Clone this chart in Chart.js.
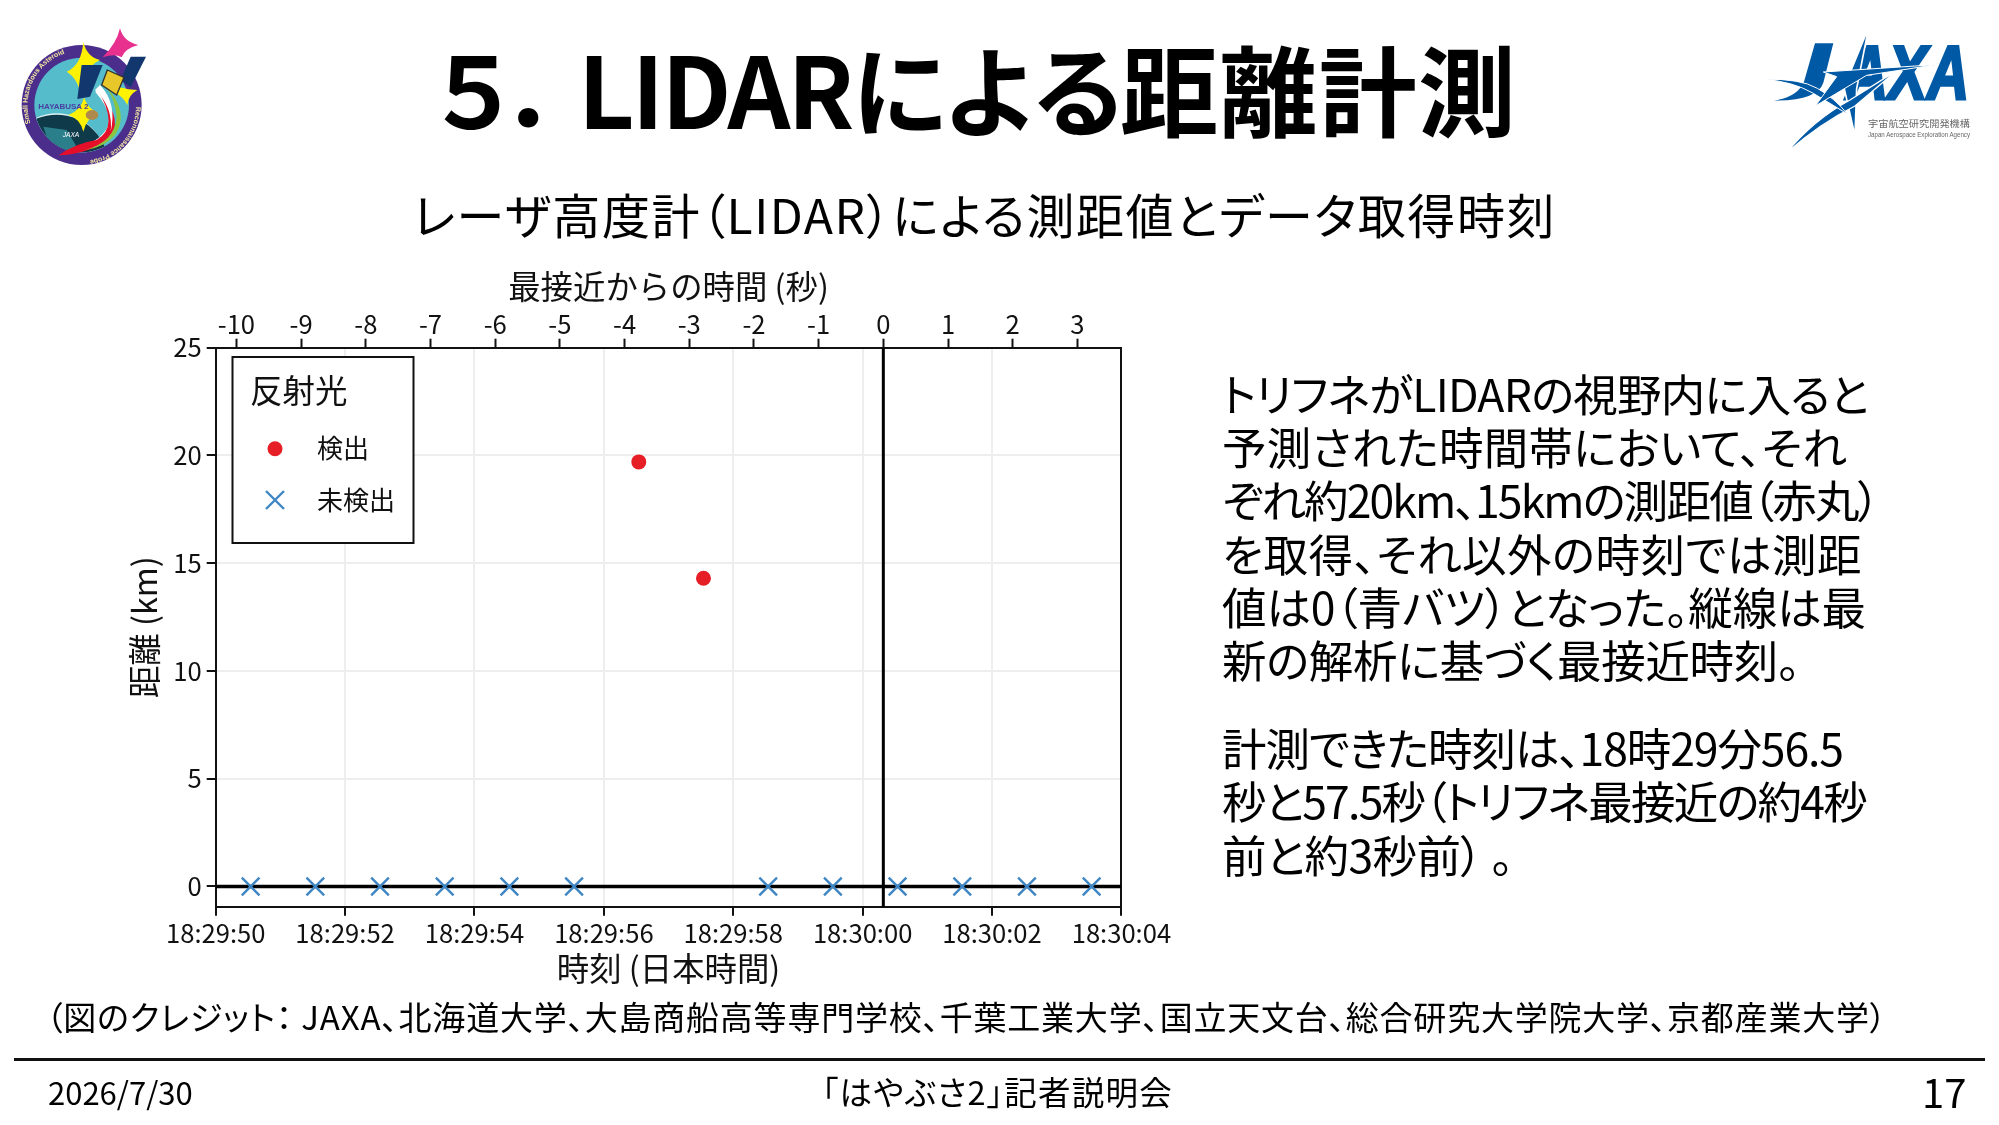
<!DOCTYPE html>
<html lang="ja">
<head>
<meta charset="utf-8">
<title>5. LIDARによる距離計測</title>
<script src="https://cdn.jsdelivr.net/npm/chart.js@4"></script>
<style>
html,body{margin:0;padding:0;background:#fff;width:1999px;height:1125px;overflow:hidden;font-family:"Noto Sans CJK JP","Noto Sans",sans-serif;color:#000}
#c{position:absolute;left:0;top:0}
.t{position:absolute;white-space:nowrap}
.fit{display:inline-block;white-space:nowrap}
#title{left:424px;top:18px;font-size:98px;font-weight:700;line-height:136px}
#title span:nth-child(1){letter-spacing:-21px}
#title span:nth-child(2){letter-spacing:-2.8px}
#title span:nth-child(3){letter-spacing:-7.4px}
#title span:nth-child(4){letter-spacing:1.2px}
#sub{left:413px;top:180px;font-size:48px;line-height:66px;font-feature-settings:"palt"}
#body{left:1222px;top:366px;font-size:44.5px;line-height:53.2px;font-feature-settings:"palt"}
#body p{margin:0 0 35px 0}
#body .fit{display:block;width:max-content}
#credit{left:46px;top:994px;font-size:33px;line-height:44px;font-feature-settings:"palt"}
#rule{position:absolute;left:14px;top:1058px;width:1971px;height:3px;background:#111}
#date{left:48px;top:1072px;font-size:31px;line-height:40px}
#mid{left:822px;top:1068px;font-size:32.5px;line-height:46px;font-feature-settings:"palt"}
#page{left:1922px;top:1064px;font-size:40px;line-height:54px}
svg{position:absolute;left:0;top:0}
</style>
</head>
<body>
<canvas id="c" width="1999" height="1125" style="width:1999px;height:1125px"></canvas>

<svg width="1999" height="1125" viewBox="0 0 1999 1125">
  <defs>
    <clipPath id="inner"><circle cx="245" cy="315" r="142"/></clipPath>
    <path id="arcTop" d="M 92 370 A 163 163 0 0 1 285 157"/>
    <path id="arcBotRev" d="M 408 320 A 163 163 0 0 1 250 482"/>
  </defs>
  <g transform="scale(0.3333)">
    <circle cx="245" cy="315" r="180" fill="#4b2e8c"/>
    <circle cx="245" cy="315" r="142" fill="#55bccb"/>
    <g clip-path="url(#inner)">
      <circle cx="170" cy="490" r="150" fill="#dff3f5"/>
      <circle cx="170" cy="500" r="156" fill="#0f3a4a"/>
      <path d="M130 380 L200 390 L230 440 L160 470Z" fill="#2b7f8a"/>
    </g>
    <path d="M286 276 Q360 360 300 410 Q250 450 175 455 Q290 450 320 395 Q350 350 290 270Z" fill="#fff"/>
    <path d="M292 268 Q385 370 315 425 Q260 462 176 466 Q225 430 290 420 Q360 380 292 268Z" fill="#e60f2a"/>
    <path d="M320 262 Q390 340 345 405 Q310 445 255 450 Q345 425 350 350 Q345 300 320 262Z" fill="#8cc63f"/>
    <path d="M300 255 Q352 310 332 395 Q340 320 285 270Z" fill="#fff"/>
    <path d="M360 85 Q370 125 415 135 Q375 145 365 172 Q345 160 308 172 Q350 130 360 85Z" fill="#e8308f"/>
    <path d="M250 125 Q260 170 300 180 Q270 195 262 220 Q250 270 245 295 Q235 235 200 215 Q245 195 250 125Z" fill="#fff200"/>
    <path d="M252 292 Q262 325 295 340 Q262 350 250 395 Q240 355 205 345 Q245 330 252 292Z" fill="#fff200"/>
    <path d="M360 262 Q385 270 412 270 Q385 285 382 315 Q370 290 345 278Z" fill="#fff200"/>
    <path d="M245 195 L308 195 L270 290 L232 297Z" fill="#12376f"/>
    <path d="M392 170 L438 170 L392 262 L362 240Z" fill="#12376f"/>
    <path d="M322 210 L372 232 L350 285 L305 255Z" fill="#e8c72a" stroke="#333" stroke-width="4"/>
    <ellipse cx="276" cy="345" rx="19" ry="15" fill="#b08a4a"/>
    <text x="115" y="326" font-family="Liberation Sans" font-weight="700" font-size="24" fill="#4b3fa0">HAYABUSA 2</text>
    <text x="188" y="412" font-family="Liberation Sans" font-size="20" fill="#fff" font-style="italic">JAXA</text>
    <text font-family="Liberation Sans" font-size="21" font-weight="700" fill="#f4e9a0"><textPath href="#arcTop">Small Hazardous Asteroid</textPath></text>
    <text font-family="Liberation Sans" font-size="21" font-weight="700" fill="#f4e9a0"><textPath href="#arcBotRev">Reconnaissance Probe</textPath></text>
  </g>

  <!-- JAXA logo -->
  <g transform="translate(1740,10) scale(0.3333)" fill="#0059a5">
    <path d="M225 100 L280 100 L250 218 Q232 272 100 272 Q172 262 192 215Z"/>
    <text x="318" y="268" font-family="Liberation Sans" font-weight="700" font-style="italic" font-size="228" textLength="370" lengthAdjust="spacingAndGlyphs" stroke="#0059a5" stroke-width="9">AXA</text>
    <path d="M386 52 L312 232 L345 378 L350 236Z" stroke="#fff" stroke-width="5"/>
    <path d="M140 428 Q220 330 330 270 L470 182 L345 288 Q240 340 140 428Z" stroke="#fff" stroke-width="4"/>
    <path d="M72 208 Q180 205 232 235 Q285 265 322 312 Q270 280 220 250 Q160 215 72 208Z" stroke="#fff" stroke-width="3"/>
    <path d="M250 186 L588 164 L380 196 L226 288 L290 200Z" stroke="#fff" stroke-width="3"/>
    <text x="384" y="352" font-size="27" fill="#666" textLength="306" lengthAdjust="spacingAndGlyphs">宇宙航空研究開発機構</text>
    <text x="384" y="380" font-family="Liberation Sans" font-size="19" fill="#666" textLength="306" lengthAdjust="spacingAndGlyphs">Japan Aerospace Exploration Agency</text>
  </g>
</svg>

<div class="t" id="title"><span>５．</span><span>LIDAR</span><span>による</span><span>距離計測</span></div>
<div class="t" id="sub"><span class="fit" data-w="1143">レーザ高度計（LIDAR）による測距値とデータ取得時刻</span></div>
<div class="t" id="body">
<p><span class="fit" data-w="646">トリフネがLIDARの視野内に入ると</span><span class="fit" data-w="625">予測された時間帯において、それ</span><span class="fit" data-w="656">ぞれ約20km、15kmの測距値（赤丸）</span><span class="fit" data-w="640">を取得、それ以外の時刻では測距</span><span class="fit" data-w="644">値は0（青バツ）となった。縦線は最</span><span class="fit" data-w="578">新の解析に基づく最接近時刻。</span></p>
<p><span class="fit" data-w="621">計測できた時刻は、18時29分56.5</span><span class="fit" data-w="644">秒と57.5秒（トリフネ最接近の約4秒</span><span class="fit" data-w="291">前と約3秒前） 。</span></p>
</div>
<div class="t" id="credit"><span class="fit" data-w="1841">（図のクレジット： JAXA、北海道大学、大島商船高等専門学校、千葉工業大学、国立天文台、総合研究大学院大学、京都産業大学）</span></div>
<div id="rule"></div>
<div class="t" id="date">2026/7/30</div>
<div class="t" id="mid"><span class="fit" data-w="351">「はやぶさ2」記者説明会</span></div>
<div class="t" id="page">17</div>

<script>
// ---- data (x in seconds after 18:29:00) ----
const detectedSeconds = [56.54, 57.54];
const detectedKm = [19.7, 14.3];
const undetectedSeconds = [50.54, 51.54, 52.54, 53.54, 54.54, 55.54, 58.54, 59.54, 60.54, 61.54, 62.54, 63.54];
const undetectedKm = [0, 0, 0, 0, 0, 0, 0, 0, 0, 0, 0, 0];
const closestApproachSeconds = [60.32, 60.32];
const closestApproachKm = [-1, 25];
const baselineSeconds = [50, 64];
const baselineKm = [0, 0];

const bottomTickValues = [50, 52, 54, 56, 58, 60, 62, 64];
const bottomTickLabels = ['18:29:50', '18:29:52', '18:29:54', '18:29:56', '18:29:58', '18:30:00', '18:30:02', '18:30:04'];
const topTickValues = [-10, -9, -8, -7, -6, -5, -4, -3, -2, -1, 0, 1, 2, 3];
const yTickValues = [0, 5, 10, 15, 20, 25];

const xRange = [50, 64];
const topRange = [-10.32, 3.68];
const yRange = [-0.94, 25];

const legendTitle = '反射光';
const detectedLabel = '検出';
const undetectedLabel = '未検出';
const xTitle = '時刻 (日本時間)';
const topTitle = '最接近からの時間 (秒)';
const yTitle = '距離 (km)';

const FONT = '"Noto Sans CJK JP","Noto Sans",sans-serif';
const RED = '#e61e25', BLUE = '#3f86c4', INK = '#111', GRID = '#eeeeee';
const zip = (xs, ys) => xs.map((x, i) => ({x, y: ys[i]}));
const fixTicks = vals => axis => { axis.ticks = vals.map(value => ({value})); };

// stretch or tighten each text line to the width it has in the slide
document.querySelectorAll('.fit').forEach(el => {
  const n = el.textContent.length;
  const w = el.getBoundingClientRect().width;
  el.style.letterSpacing = ((+el.dataset.w - w) / n).toFixed(3) + 'px';
});

const legendFrame = {
  id: 'legendFrame',
  beforeDatasetsDraw(chart) {
    const ctx = chart.ctx;
    ctx.save();
    ctx.fillStyle = '#fff'; ctx.strokeStyle = INK; ctx.lineWidth = 2;
    ctx.fillRect(232.5, 357, 181, 186); ctx.strokeRect(232.5, 357, 181, 186);
    ctx.fillStyle = INK; ctx.textBaseline = 'middle'; ctx.textAlign = 'left';
    ctx.font = '32.5px ' + FONT; ctx.fillText(legendTitle, 250, 391);
    ctx.font = '26px ' + FONT;
    ctx.fillText(detectedLabel, 317, 448);
    ctx.fillText(undetectedLabel, 317, 500);
    ctx.fillStyle = RED;
    ctx.beginPath(); ctx.arc(275, 448.7, 7.5, 0, Math.PI * 2); ctx.fill();
    ctx.strokeStyle = BLUE; ctx.lineWidth = 2.4;
    ctx.beginPath();
    ctx.moveTo(266, 491); ctx.lineTo(284, 509); ctx.moveTo(284, 491); ctx.lineTo(266, 509);
    ctx.stroke();
    ctx.restore();
  }
};

new Chart(document.getElementById('c'), {
  type: 'scatter',
  plugins: [legendFrame],
  data: {
    datasets: [
      {label: detectedLabel, data: zip(detectedSeconds, detectedKm), pointStyle: 'circle', pointRadius: 7.5, backgroundColor: RED, borderColor: RED, borderWidth: 0, order: 1},
      {label: undetectedLabel, data: zip(undetectedSeconds, undetectedKm), pointStyle: 'crossRot', pointRadius: 12.5, pointBorderWidth: 2.4, borderColor: BLUE, backgroundColor: BLUE, order: 1},
      {label: 'baseline', data: zip(baselineSeconds, baselineKm), showLine: true, pointRadius: 0, borderColor: '#000', borderWidth: 3.5, order: 2},
      {label: 'closest', data: zip(closestApproachSeconds, closestApproachKm), showLine: true, pointRadius: 0, borderColor: '#000', borderWidth: 3, order: 2}
    ]
  },
  options: {
    responsive: false,
    animation: false,
    devicePixelRatio: 1,
    layout: {padding: {left: 120, right: 877.6, top: 250, bottom: 118.3}},
    plugins: {legend: {display: false}, tooltip: {enabled: false}},
    scales: {
      x: {
        type: 'linear', position: 'bottom', min: xRange[0], max: xRange[1],
        afterBuildTicks: fixTicks(bottomTickValues),
        afterFit(s) { s.height = 100; },
        ticks: {autoSkip: false, maxRotation: 0, color: INK, font: {family: FONT, size: 25.6}, padding: 2,
          callback: (v, i) => bottomTickLabels[i]},
        grid: {color: GRID, lineWidth: 2, tickColor: INK, tickWidth: 2, tickLength: 9},
        border: {color: INK, width: 2},
        title: {display: true, text: xTitle, color: INK, font: {family: FONT, size: 32.4}, padding: {top: 0, bottom: 19}}
      },
      x2: {
        type: 'linear', position: 'top', min: topRange[0], max: topRange[1],
        afterBuildTicks: fixTicks(topTickValues),
        afterFit(s) { s.height = 97.7; },
        ticks: {autoSkip: false, maxRotation: 0, color: INK, font: {family: FONT, size: 25.6}, padding: -1,
          callback: v => String(v)},
        grid: {drawOnChartArea: false, tickColor: INK, tickWidth: 2, tickLength: 9},
        border: {color: INK, width: 2},
        title: {display: true, text: topTitle, color: INK, font: {family: FONT, size: 32.4}, padding: {top: 17, bottom: 0}}
      },
      y: {
        type: 'linear', position: 'left', min: yRange[0], max: yRange[1],
        afterBuildTicks: fixTicks(yTickValues),
        afterFit(s) { s.width = 95.7; },
        ticks: {autoSkip: false, color: INK, font: {family: FONT, size: 25.6}, padding: 5, callback: v => String(v)},
        grid: {color: GRID, lineWidth: 2, tickColor: INK, tickWidth: 2, tickLength: 9},
        border: {color: INK, width: 2},
        title: {display: true, text: yTitle, color: INK, font: {family: FONT, size: 32.4}, padding: {top: 5, bottom: 0}}
      },
      y2: {
        type: 'linear', position: 'right', min: yRange[0], max: yRange[1],
        afterFit(s) { s.width = 0; },
        ticks: {display: false},
        grid: {drawOnChartArea: false, drawTicks: false},
        border: {color: INK, width: 2}
      }
    }
  }
});
</script>
</body>
</html>
